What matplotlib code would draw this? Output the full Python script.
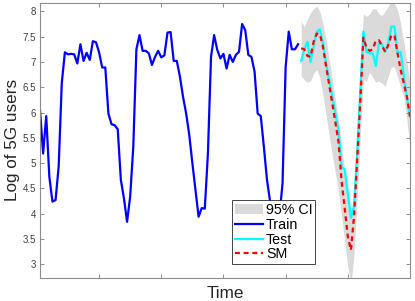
import matplotlib
matplotlib.use("Agg")
import matplotlib.pyplot as plt
import numpy as np

plt.rcParams["font.family"] = ["Liberation Sans", "DejaVu Sans"]

# time index of the training part and of the test / forecast part
train_t = np.arange(1, 85)
test_t = np.arange(85, 121)

train = [6.05, 5.19, 5.93, 4.73, 4.24, 4.27, 4.93, 6.58, 7.19, 7.15,
         7.16, 7.15, 6.97, 7.35, 7.02, 7.18, 7.04, 7.41, 7.39, 7.19,
         6.89, 6.89, 5.98, 5.77, 5.75, 5.67, 4.67, 4.30, 3.84, 4.34,
         5.32, 7.25, 7.53, 7.22, 7.22, 7.17, 6.94, 7.10, 7.22, 7.09,
         7.13, 7.58, 7.59, 7.02, 7.02, 6.71, 6.31, 5.98, 5.56, 5.00,
         4.47, 3.94, 4.11, 4.10, 5.19, 7.10, 7.53, 7.24, 7.07, 7.16,
         6.87, 7.14, 7.00, 7.14, 7.20, 7.75, 7.63, 7.14, 7.10, 6.81,
         5.98, 5.93, 5.32, 4.67, 4.24, 3.90, 3.85, 3.95, 4.60, 6.90,
         7.60, 7.25, 7.25, 7.35]

test = [7.02, 7.25, 7.40, 7.00, 7.30, 7.60, 7.64, 7.37, 6.97, 6.64,
        6.31, 5.98, 5.65, 4.92, 4.88, 4.40, 3.92, 4.15, 5.20, 6.40,
        7.60, 7.20, 7.17, 7.17, 6.92, 7.37, 7.35, 7.20, 7.37, 7.70,
        7.70, 7.17, 7.20, 6.72, 6.30, 5.92]

sm = [7.27, 7.25, 7.12, 7.10, 7.40, 7.56, 7.55, 7.30, 6.92, 6.55,
      6.18, 5.80, 5.42, 4.64, 4.10, 3.55, 3.28, 3.95, 5.05, 6.20,
      7.48, 7.28, 7.22, 7.25, 7.42, 7.43, 7.32, 7.20, 7.33, 7.53,
      7.52, 7.17, 6.84, 6.58, 6.31, 5.92]

ci_upper = [7.80, 7.70, 7.85, 7.97, 8.05, 8.10, 8.00, 7.75, 7.45, 7.05,
            6.65, 6.25, 5.85, 5.35, 4.85, 4.30, 3.95, 4.60, 5.75, 6.90,
            7.95, 7.90, 7.95, 8.05, 8.05, 7.95, 7.92, 8.00, 8.10, 8.20,
            8.15, 8.03, 7.75, 7.40, 7.00, 6.55]

ci_lower = [6.72, 6.65, 6.60, 6.62, 6.78, 6.85, 6.70, 6.35, 5.95, 5.55,
            5.15, 4.80, 4.45, 3.95, 3.45, 2.95, 2.60, 3.20, 4.30, 5.50,
            6.65, 6.62, 6.80, 6.70, 6.60, 6.62, 6.58, 6.52, 6.72, 6.90,
            6.90, 6.71, 6.50, 6.30, 5.85, 5.30]

yticks = [3, 3.5, 4, 4.5, 5, 5.5, 6, 6.5, 7, 7.5, 8]
xticks = [20, 40, 60, 80, 100, 120]

fig = plt.figure(figsize=(4.15, 3.01), dpi=100)
ax = fig.add_axes([0.0964, 0.0774, 0.8916, 0.9126])

ax.fill_between(test_t, ci_lower, ci_upper, color="#dadada", linewidth=0, label="95% CI")
ax.plot(train_t, train, color="#0000ff", linewidth=1.6, label="Train")
ax.plot(test_t, test, color="#00ffff", linewidth=1.6, label="Test")
ax.plot(test_t, sm, color="#ff0000", linewidth=1.6, linestyle=(0, (2.2, 1.7)), label="SM")

ax.set_xlim(1, 120)
ax.set_ylim(2.735, 8.165)
ax.set_xticks(xticks)
ax.set_xticklabels([])
ax.set_yticks(yticks)
ax.set_yticklabels([f"{v:g}" for v in yticks])
ax.tick_params(direction="in", length=3, width=0.7, colors="#8c8c8c",
               labelcolor="#404040", labelsize=7, top=True, right=True, pad=3)
for s in ax.spines.values():
    s.set_color("#8c8c8c")
    s.set_linewidth(0.8)

ax.set_xlabel("Time", fontsize=12.3, color="#262626", labelpad=3)
ax.set_ylabel("Log of 5G users", fontsize=12.3, color="#262626", labelpad=2)

leg = ax.legend(loc="lower left", bbox_to_anchor=(0.518, 0.049), borderaxespad=0,
                fontsize=10.3, handlelength=2.0, handletextpad=0.2, labelspacing=0.05,
                borderpad=0.2, fancybox=False, framealpha=1, edgecolor="#262626")
leg.get_frame().set_linewidth(0.6)

fig.savefig("out.png", dpi=100)
